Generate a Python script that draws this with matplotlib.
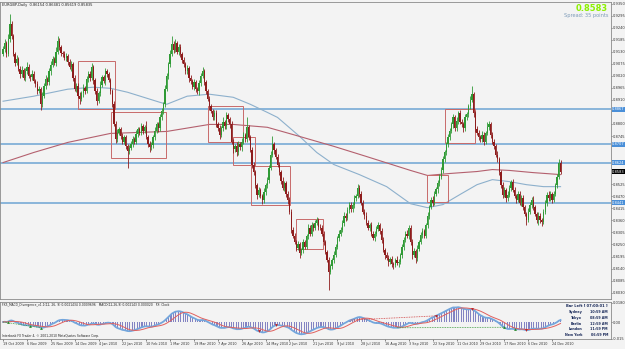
import numpy as np
import pandas as pd
import matplotlib
matplotlib.use("Agg")
import matplotlib.pyplot as plt
from matplotlib.transforms import blended_transform_factory

# daily closes in pips (x 0.0001)
closes_txt = """
9142 9170 9120 9190 9256 9200 9119 9080 9095 9050 9027 9045 9010 9040 9060 9020 9013 9030 8995 8981
8950 8960 8890 8930 8975 9004 8990 9040 9070 9096 9080 9130 9178 9150 9125 9119 9100 9110 9082 9060
9075 9010 8959 8975 8930 8913 8940 8965 8950 9004 9030 9010 9059 9000 8950 8904 8940 8980 9013 8995
9040 9027 9000 8950 8890 8800 8730 8760 8775 8745 8720 8740 8700 8675 8690 8710 8730 8720 8755 8775
8760 8790 8770 8785 8740 8710 8693 8705 8740 8770 8798 8780 8830 8860 8890 8960 9020 9073 9120 9165
9140 9170 9130 9151 9120 9090 9073 9040 9055 9010 8995 8970 8990 8960 8949 8985 9020 9041 8990 8950
8913 8880 8860 8830 8850 8800 8780 8752 8780 8810 8790 8840 8821 8800 8720 8684 8700 8670 8710 8693
8720 8750 8730 8785 8740 8680 8615 8580 8520 8478 8500 8470 8455 8490 8520 8546 8600 8660 8707 8680
8650 8615 8580 8540 8510 8530 8480 8455 8400 8317 8290 8260 8235 8250 8210 8226 8260 8240 8290 8327
8300 8340 8327 8350 8360 8330 8327 8300 8260 8217 8180 8125 8150 8180 8203 8240 8280 8300 8317 8350
8380 8370 8409 8430 8410 8432 8460 8470 8510 8480 8440 8400 8380 8350 8327 8340 8300 8281 8300 8320
8340 8310 8270 8226 8200 8190 8171 8185 8160 8157 8180 8165 8171 8200 8240 8272 8300 8290 8327 8260
8203 8220 8190 8230 8260 8295 8310 8290 8340 8380 8420 8455 8440 8480 8501 8530 8560 8592 8640 8670
8707 8740 8770 8798 8830 8780 8812 8850 8810 8798 8780 8830 8844 8880 8910 8936 8850 8775 8760 8740
8730 8750 8720 8760 8785 8800 8750 8720 8700 8660 8638 8580 8520 8478 8500 8460 8478 8510 8533 8500
8470 8455 8480 8440 8464 8420 8390 8363 8400 8430 8455 8420 8390 8363 8380 8360 8354 8400 8440 8478
8460 8480 8455 8480 8520 8560 8620 8583
"""

up_txt = """
12 18 10 22 46 15 12 10 18 12 14 20 10 16 22 12 10 15 12 10
14 12 10 18 14 20 12 16 18 14 12 20 23 14 12 10 16 12 10 14
12 10 14 10 12 16 12 18 10 14 12 10 20 12 10 14 12 16 12 10
14 12 10 12 10 14 12 16 10 12 14 10 12 10 16 12 14 12 18 10
12 14 10 12 30 10 12 14 10 16 12 10 14 12 10 16 14 12 18 36
12 20 10 14 12 10 16 12 14 10 12 10 14 12 10 16 12 18 10 12
10 14 12 10 16 12 10 14 12 20 10 16 12 10 14 12 10 16 12 10
14 12 10 45 12 10 14 12 10 12 14 10 12 16 10 14 12 18 36 12
10 14 12 10 16 12 10 14 12 10 12 14 10 16 12 10 14 12 10 16
12 14 10 12 16 10 14 12 10 12 10 14 12 10 16 12 10 14 12 10
16 12 10 14 12 10 16 12 15 10 14 12 10 16 12 10 14 12 10 16
12 10 14 12 10 16 12 10 14 12 10 16 12 10 14 12 10 16 12 10
14 12 10 16 12 10 14 12 10 16 12 10 14 12 10 16 12 10 14 12
10 16 12 10 14 12 20 10 16 12 10 14 12 10 16 36 12 10 14 12
10 16 12 10 25 12 10 14 12 10 16 12 10 14 12 10 16 12 10 14
12 10 16 12 10 14 12 10 16 12 10 14 12 10 16 12 10 14 12 10
16 12 10 14 12 10 20 15
"""

dn_txt = """
10 14 12 10 16 12 10 14 12 10 16 12 10 14 12 10 16 12 10 14
12 10 25 12 10 14 12 10 16 12 10 14 12 10 16 12 10 14 12 10
16 12 10 14 12 20 10 16 12 10 14 12 10 16 12 18 10 14 12 10
16 12 10 14 12 10 16 12 10 14 12 10 16 74 12 10 14 12 10 16
12 10 14 12 10 16 20 10 14 12 10 16 12 10 14 12 10 16 12 10
14 12 10 16 12 10 14 12 10 16 12 10 14 12 10 16 12 10 14 12
10 16 12 10 14 12 10 22 12 10 14 12 10 16 12 18 10 14 12 10
16 12 10 14 12 10 16 12 10 22 12 10 20 16 12 10 14 12 10 16
12 10 14 12 10 16 12 18 10 14 12 10 16 12 22 10 14 12 10 16
12 10 14 12 10 16 12 10 14 12 10 82 12 10 16 12 10 14 12 10
16 12 10 14 12 10 16 12 10 14 12 10 16 12 10 14 12 10 16 12
10 14 12 10 16 12 18 10 14 20 12 10 16 12 10 14 12 10 16 12
18 12 25 14 12 10 16 12 10 14 12 10 16 12 10 14 12 10 16 12
10 14 12 10 16 12 10 14 12 10 16 12 10 14 12 10 16 12 10 14
12 10 16 12 10 14 12 10 16 12 10 14 12 18 10 16 12 10 14 12
10 16 12 10 14 12 10 25 12 10 14 12 10 16 22 10 20 12 10 14
12 10 16 12 10 14 12 10
"""

first_open = 0.9120

# moving averages (bar index, price)
blue_ma_idx = [0, 18, 38, 53, 63, 73, 92, 96, 108, 121, 135, 145, 155, 161, 174, 184, 194,
               209, 225, 239, 249, 258, 268, 278, 287, 297, 307, 317, 327]
blue_ma_val = [0.8904, 0.8927, 0.8959, 0.8968, 0.8963, 0.8945, 0.8899, 0.8890, 0.8927, 0.8936,
               0.8922, 0.8890, 0.8853, 0.8830, 0.8743, 0.8670, 0.8615, 0.8569, 0.8514, 0.8436,
               0.8418, 0.8432, 0.8478, 0.8523, 0.8546, 0.8537, 0.8523, 0.8514, 0.8514]
red_ma_idx = [0, 18, 38, 63, 96, 121, 135, 155, 170, 194, 213, 239, 249, 262, 278, 287, 297, 311, 327]
red_ma_val = [0.8624, 0.8670, 0.8716, 0.8757, 0.8766, 0.8798, 0.8798, 0.8785, 0.8752, 0.8698,
              0.8652, 0.8588, 0.8565, 0.8574, 0.8583, 0.8592, 0.8588, 0.8578, 0.8569]

levels = [0.8867, 0.8707, 0.8624, 0.8441]
last_price = 0.8583

box_start = [44, 63.3, 120, 135, 145.5, 171.8, 259.2, 248.7]
box_end = [65.7, 95.6, 140.8, 147.8, 168.3, 187.7, 276.8, 261]
box_top = [0.9087, 0.8853, 0.8881, 0.8739, 0.8606, 0.8368, 0.8867, 0.8565]
box_bottom = [0.8867, 0.8647, 0.8720, 0.8615, 0.8432, 0.8230, 0.8711, 0.8446]

# MACD divergence lines (bar pairs) and arrow bars
bear_div = [(204, 254)]
bull_div = [(0, 22), (231, 294)]
bear_arrows = [150, 160, 254, 275, 307]
bull_arrows = [3, 16, 22, 294, 300]

date_labels = ["19 Oct 2009", "6 Nov 2009", "25 Nov 2009", "14 Dec 2009", "4 Jan 2010",
               "22 Jan 2010", "10 Feb 2010", "1 Mar 2010", "19 Mar 2010", "7 Apr 2010",
               "26 Apr 2010", "14 May 2010", "2 Jun 2010", "21 Jun 2010", "9 Jul 2010",
               "28 Jul 2010", "16 Aug 2010", "3 Sep 2010", "22 Sep 2010", "11 Oct 2010",
               "29 Oct 2010", "17 Nov 2010", "6 Dec 2010", "24 Dec 2010"]

clock_names = ["Sydney", "Tokyo", "Berlin", "London", "New York"]
clock_times = ["10:59 AM", "08:59 AM", "12:59 AM", "11:59 PM", "06:59 PM"]

close = np.array(closes_txt.split(), dtype=float) / 10000
up_wick = np.array(up_txt.split(), dtype=float) / 10000
dn_wick = np.array(dn_txt.split(), dtype=float) / 10000
n = len(close)
opens = np.r_[first_open, close[:-1]]
highs = np.maximum(opens, close) + up_wick
lows = np.minimum(opens, close) - dn_wick
x = np.arange(n)

bg = "#f3f3f3"
green = "#2f9a35"
red = "#8e1c1c"
navy = "#1a2a5a"
small = 2.6

fig = plt.figure(figsize=(6.25, 3.49), dpi=100, facecolor=bg)
ax = fig.add_axes([0.0, 50 / 349, 611 / 625, 297 / 349], facecolor=bg)
ax2 = fig.add_axes([0.0, 10 / 349, 611 / 625, 37 / 349], facecolor=bg)

# main chart
for p in levels:
    ax.axhline(p, color="#82b0d8", lw=1.3, zorder=1)
ax.plot(blue_ma_idx, blue_ma_val, color="#8db0cc", lw=0.8, zorder=2)
ax.plot(red_ma_idx, red_ma_val, color="#b4606e", lw=0.8, zorder=2)
for s, e, t, b in zip(box_start, box_end, box_top, box_bottom):
    ax.add_patch(plt.Rectangle((s, b), e - s, t - b, fill=False, ec="#c86a6a", lw=0.7, zorder=3))

cols = np.where(close >= opens, green, red)
ax.vlines(x, lows, highs, colors=cols, lw=0.6, zorder=4)
body = np.maximum(np.abs(close - opens), 0.00006)
ax.bar(x, body, bottom=np.minimum(opens, close), width=0.75, color=cols, lw=0, zorder=5)

ax.set_xlim(-1.8, 356.6)
ax.set_ylim(0.8001, 0.9357)
ax.yaxis.tick_right()
marks = levels + [last_price]
ticks = [t for t in np.arange(0.8030, 0.9360, 0.0055) if min(abs(t - m) for m in marks) > 0.0022]
ax.set_yticks(ticks)
ax.yaxis.set_major_formatter(plt.FormatStrFormatter("%.4f"))
ax.tick_params(axis="y", labelsize=small, length=1, width=0.5, pad=0.5, colors="#333333")
ax.set_xticks([])
for sp in ax.spines.values():
    sp.set_color("#8a8a8a")
    sp.set_linewidth(0.6)

tr = blended_transform_factory(ax.transAxes, ax.transData)
for p in levels:
    ax.text(1.002, p, f"{p:.4f}", transform=tr, fontsize=small, color="white", va="center",
            ha="left", bbox=dict(boxstyle="square,pad=0.15", fc="#4a8fd8", ec="none"), zorder=10)
ax.text(1.002, last_price, f"{last_price:.4f}", transform=tr, fontsize=small, color="white",
        va="center", ha="left", bbox=dict(boxstyle="square,pad=0.15", fc="black", ec="none"), zorder=11)

ax.text(0.004, 0.997, "EURGBP,Daily  0.86154 0.86481 0.85619 0.85835", transform=ax.transAxes,
        fontsize=small, color="#222222", va="top", ha="left")
ax.text(0.995, 0.993, f"{last_price:.4f}", transform=ax.transAxes, fontsize=6, color="#8cf000",
        fontweight="bold", va="top", ha="right")
ax.text(0.995, 0.962, "Spread: 35 points", transform=ax.transAxes, fontsize=3.6,
        color="#7d9bb8", va="top", ha="right")

# MACD sub-window
s = pd.Series(close)
macd = s.ewm(span=12, adjust=False).mean() - s.ewm(span=26, adjust=False).mean()
signal = macd.rolling(9, min_periods=1).mean()
ax2.bar(x, macd, width=0.45, color="#8383c2", lw=0, zorder=2)
ax2.plot(x, macd, color="#74a6dc", lw=1.3, zorder=3)
ax2.plot(x, signal, color="#e0605e", lw=0.7, zorder=4)
for a, b in bear_div:
    ax2.plot([a, b], [macd[a], macd[b]], color="#d04040", lw=0.6, ls=(0, (1, 1)), zorder=5)
for a, b in bull_div:
    ax2.plot([a, b], [macd[a], macd[b]], color="#3a9a3a", lw=0.6, ls=(0, (1, 1)), zorder=5)
ax2.scatter(bear_arrows, macd[bear_arrows], marker="v", s=4, color="#c02020", lw=0, zorder=6)
ax2.scatter(bull_arrows, macd[bull_arrows], marker="^", s=4, color="#2a8a2a", lw=0, zorder=6)

top = float(macd.abs().max()) * 1.35
ax2.set_ylim(-top * 0.85, top)
ax2.set_xlim(ax.get_xlim())
ax2.yaxis.tick_right()
ax2.set_yticks([top * 0.97, 0, -top * 0.83])
ax2.set_yticklabels([f"{top:.4f}", "0.00", f"-{top * 0.85:.3f}"])
ax2.tick_params(axis="y", labelsize=small, length=1, width=0.5, pad=0.5, colors="#333333")
ax2.set_xticks([k * 14 for k in range(len(date_labels))])
ax2.set_xticklabels([])
ax2.tick_params(axis="x", length=1.2, width=0.5, colors="#555555")
for sp in ax2.spines.values():
    sp.set_color("#8a8a8a")
    sp.set_linewidth(0.6)

trd = blended_transform_factory(ax2.transData, ax2.transAxes)
for k, lab in enumerate(date_labels):
    ax2.text(k * 14, -0.08, lab, transform=trd, fontsize=2.4, color="#333333", va="top", ha="left")

ax2.text(0.004, 0.97, "FX5_MACD_Divergence_v1.1(12, 26, 9) 0.0021434 0.0009696   MACD(12,26,9) 0.002143 0.000020   FX: Clock",
         transform=ax2.transAxes, fontsize=2.2, color="#222222", va="top", ha="left")
ax2.text(0.004, 0.03, "Interbank FX Trader 4, \u00a9 2001-2010 MetaQuotes Software Corp.",
         transform=ax2.transAxes, fontsize=2.2, color="#222222", va="bottom", ha="left")
ax2.text(0.995, 0.95, "Bar Left [ 07:00:01 ]", transform=ax2.transAxes, fontsize=small,
         color=navy, fontweight="bold", va="top", ha="right")
for k, (nm, tm) in enumerate(zip(clock_names, clock_times)):
    yy = 0.78 - k * 0.155
    ax2.text(0.953, yy, nm, transform=ax2.transAxes, fontsize=2.4, color=navy,
             fontweight="bold", va="top", ha="right")
    ax2.text(0.995, yy, tm, transform=ax2.transAxes, fontsize=2.4, color=navy,
             fontweight="bold", va="top", ha="right")

fig.savefig("out.png", dpi=100, facecolor=bg)
